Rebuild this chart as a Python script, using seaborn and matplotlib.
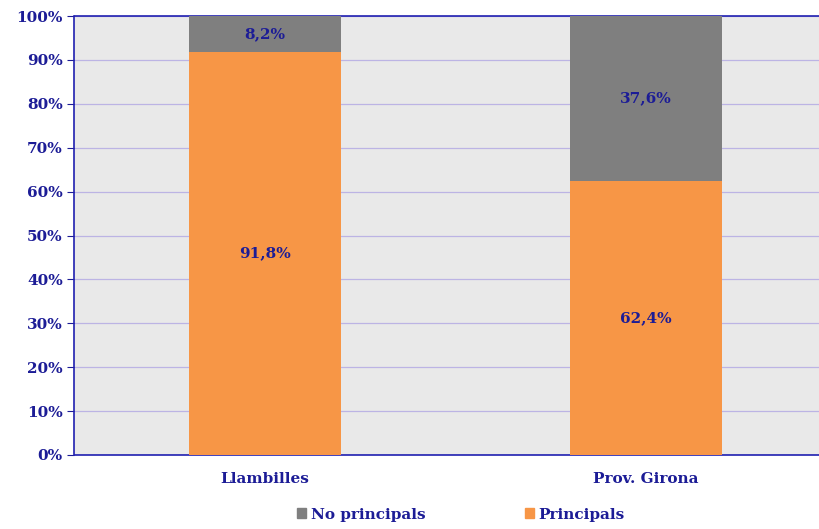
import pandas as pd
import seaborn as sns
import matplotlib.pyplot as plt
from matplotlib.patches import Patch
from matplotlib.ticker import PercentFormatter

categories = ["Llambilles", "Prov. Girona"]
principals = [91.8, 62.4]
no_principals = [8.2, 37.6]

TEXT = "#1c1c96"
ORANGE = "#f79646"
GREY = "#7f7f7f"

sns.set_style("white")
plt.rcParams["font.family"] = ["DejaVu Serif"]
plt.rcParams["font.weight"] = "bold"

df = pd.DataFrame({
    "cat": categories,
    "principals": principals,
    "total": [p + n for p, n in zip(principals, no_principals)],
})

fig = plt.figure(figsize=(8.2, 5.29), dpi=100)
ax = fig.add_axes([74.5 / 820, 1 - 455 / 529, 762 / 820, 439 / 529])
ax.set_facecolor("#e9e9e9")

sns.barplot(data=df, x="cat", y="total", color=GREY, width=0.4,
            saturation=1, linewidth=0, ax=ax, zorder=3)
sns.barplot(data=df, x="cat", y="principals", color=ORANGE, width=0.4,
            saturation=1, linewidth=0, ax=ax, zorder=3)

for i, (p, n) in enumerate(zip(principals, no_principals)):
    ax.text(i, p / 2, f"{p:.1f}%".replace(".", ","), ha="center", va="center",
            color=TEXT, fontsize=11, fontweight="bold", zorder=4)
    ax.text(i, p + n / 2, f"{n:.1f}%".replace(".", ","), ha="center", va="center",
            color=TEXT, fontsize=11, fontweight="bold", zorder=4)

ax.set_ylim(0, 100)
ax.set_xlim(-0.5, 1.5)
ax.set_yticks(range(0, 101, 10))
ax.yaxis.set_major_formatter(PercentFormatter(decimals=0))
ax.grid(axis="y", color="#bcb4e4", linewidth=0.9, zorder=1)
ax.set_xlabel("")
ax.set_ylabel("")
ax.tick_params(axis="y", colors=TEXT, labelsize=11, length=5, direction="out", left=True)
ax.tick_params(axis="x", colors=TEXT, labelsize=11, length=0, pad=12)
for lbl in ax.get_xticklabels() + ax.get_yticklabels():
    lbl.set_fontweight("bold")

for side in ["left", "bottom", "top"]:
    ax.spines[side].set_color("#2020b0")
    ax.spines[side].set_linewidth(1.2)
ax.spines["right"].set_visible(False)

handles = [Patch(color=GREY, label="No principals"), Patch(color=ORANGE, label="Principals")]
fig.legend(handles=handles, loc="lower center", bbox_to_anchor=(0.562, -0.012), ncol=2,
           frameon=False, fontsize=11, labelcolor=TEXT, handlelength=0.6,
           handleheight=0.6, handletextpad=0.3, columnspacing=6.5)

fig.savefig("out.png", dpi=100)
